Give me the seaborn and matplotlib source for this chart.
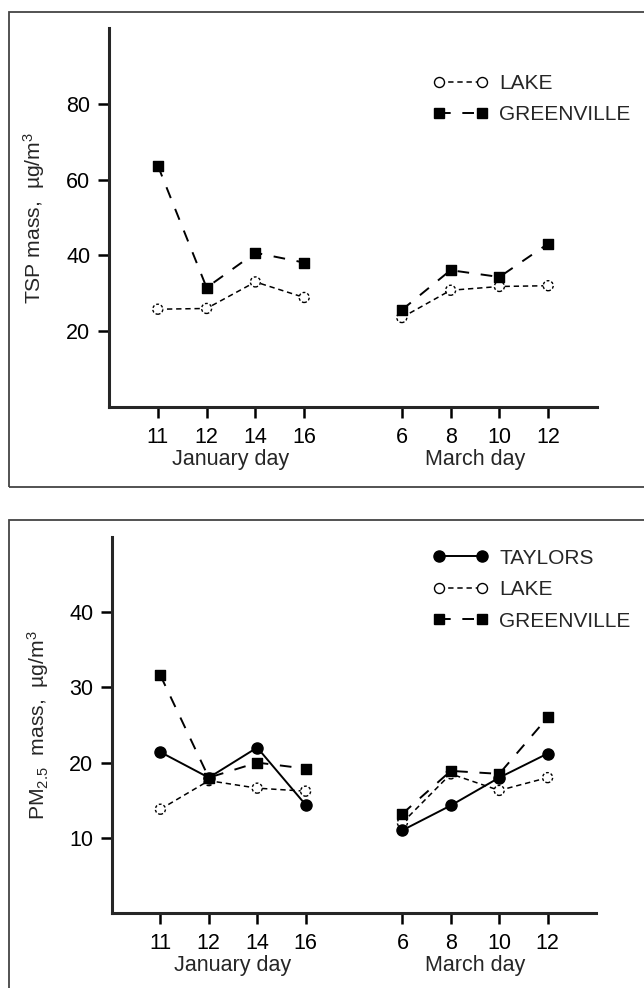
import numpy as np
import pandas as pd
import seaborn as sns
import matplotlib.pyplot as plt
from matplotlib.lines import Line2D
from matplotlib.patches import Rectangle

# data
jan_days = ["11", "12", "14", "16"]
mar_days = ["6", "8", "10", "12"]
tick_labels = jan_days + mar_days

tsp_lake = [25.8, 26.0, 33.0, 28.9, 23.6, 30.8, 31.8, 32.0]
tsp_greenville = [63.7, 31.5, 40.7, 38.1, 25.6, 36.1, 34.3, 43.1]

pm_taylors = [21.4, 18.0, 22.0, 14.4, 11.0, 14.3, 18.0, 21.2]
pm_lake = [13.8, 17.6, 16.6, 16.2, 12.0, 18.5, 16.3, 18.0]
pm_greenville = [31.6, 18.0, 20.0, 19.2, 13.2, 18.9, 18.5, 26.0]

# slot on the x axis: gap of one between the months
positions = [0, 1, 2, 3, 5, 6, 7, 8]
months = ["Jan"] * 4 + ["Mar"] * 4

sns.set_theme(style="ticks")
plt.rcParams["font.family"] = ["Liberation Sans", "DejaVu Sans"]
plt.rcParams["mathtext.fontset"] = "custom"
plt.rcParams["mathtext.rm"] = "Liberation Sans"
plt.rcParams["mathtext.it"] = "Liberation Sans:italic"

styles = {
    "TAYLORS": dict(ls="-", lw=1.4, marker="o", s=64, fc="black", ec="black", els="-"),
    "LAKE": dict(ls=(0, (3.5, 2.5)), lw=1.1, marker="o", s=52, fc="white", ec="black", els=(0, (2, 1.5))),
    "GREENVILLE": dict(ls=(0, (6, 6)), lw=1.4, marker="s", s=42, fc="black", ec="black", els="-"),
}


def make_df(series):
    rows = []
    for site, vals in series.items():
        for p, m, v in zip(positions, months, vals):
            rows.append({"site": site, "pos": p, "month": m, "value": v})
    return pd.DataFrame(rows)


def draw_panel(ax, df, order):
    for site in order:
        st = styles[site]
        sub = df[df["site"] == site]
        sns.lineplot(data=sub, x="pos", y="value", units="month", estimator=None,
                     color="black", linestyle=st["ls"], lw=st["lw"], ax=ax, zorder=2)
    for site in order:
        st = styles[site]
        sub = df[df["site"] == site]
        sns.scatterplot(data=sub, x="pos", y="value", marker=st["marker"], s=st["s"],
                        color=st["fc"], edgecolor=st["ec"], linewidth=1.0,
                        linestyle=st["els"], ax=ax, zorder=3, legend=False)

    ax.set_xlim(-1, 9)
    ax.set_xticks(positions)
    ax.set_xticklabels(tick_labels)
    ax.set_xlabel("")
    sns.despine(ax=ax)
    for sp in ["left", "bottom"]:
        ax.spines[sp].set_linewidth(2.2)
    ax.tick_params(axis="both", length=8, width=1.8, labelsize=15.5, colors="black")
    ax.tick_params(axis="x", pad=6.5)
    ax.tick_params(axis="y", pad=5.5)
    ax.annotate("January day", xy=(1.5, 0), xycoords=("data", "axes fraction"),
                xytext=(0, -37.5), textcoords="offset points", ha="center", va="center", fontsize=15.5)
    ax.annotate("March day", xy=(6.5, 0), xycoords=("data", "axes fraction"),
                xytext=(0, -37.5), textcoords="offset points", ha="center", va="center", fontsize=15.5)


def legend_handles(order):
    hs = []
    for site in order:
        st = styles[site]
        hs.append(Line2D([], [], color="black", linestyle=st["ls"], lw=st["lw"],
                         marker=st["marker"], markersize=np.sqrt(st["s"]),
                         markerfacecolor=st["fc"], markeredgecolor=st["ec"], label=site))
    return hs


fig = plt.figure(figsize=(6.44, 9.88), dpi=100)

# panel frames
fig.add_artist(Rectangle((9 / 644, 1 - 487 / 988), 1.0, 475 / 988, transform=fig.transFigure,
                         fill=False, ec="#444444", lw=1.3))
fig.add_artist(Rectangle((9 / 644, -0.05), 1.0, 0.05 + 1 - 520 / 988, transform=fig.transFigure,
                         fill=False, ec="#444444", lw=1.3))

# top: TSP
ax1 = fig.add_axes([109 / 644, 1 - 407 / 988, 488 / 644, 379 / 988])
df_tsp = make_df({"LAKE": tsp_lake, "GREENVILLE": tsp_greenville})
draw_panel(ax1, df_tsp, ["LAKE", "GREENVILLE"])
ax1.set_ylim(0, 100)
ax1.set_yticks([20, 40, 60, 80])
ax1.set_ylabel("TSP mass,  µg/m$^{3}$", fontsize=15.2)
ax1.yaxis.set_label_coords(-0.127, 0.5)
ax1.legend(handles=legend_handles(["LAKE", "GREENVILLE"]), loc="upper left",
           bbox_to_anchor=(0.664, 0.879), frameon=False, fontsize=15, numpoints=2,
           handlelength=2.64, handletextpad=0.55, labelspacing=0.6, borderpad=0, borderaxespad=0)

# bottom: PM2.5
ax2 = fig.add_axes([112 / 644, 1 - 913 / 988, 484 / 644, 376 / 988])
df_pm = make_df({"LAKE": pm_lake, "GREENVILLE": pm_greenville, "TAYLORS": pm_taylors})
draw_panel(ax2, df_pm, ["LAKE", "GREENVILLE", "TAYLORS"])
ax2.set_ylim(0, 50)
ax2.set_yticks([10, 20, 30, 40])
ax2.set_ylabel("PM$_{2.5}$  mass,  µg/m$^{3}$", fontsize=15.2)
ax2.yaxis.set_label_coords(-0.126, 0.5)
ax2.legend(handles=legend_handles(["TAYLORS", "LAKE", "GREENVILLE"]), loc="upper left",
           bbox_to_anchor=(0.663, 0.969), frameon=False, fontsize=15, numpoints=2,
           handlelength=2.64, handletextpad=0.55, labelspacing=0.6, borderpad=0, borderaxespad=0)

fig.savefig("out.png", dpi=100)
